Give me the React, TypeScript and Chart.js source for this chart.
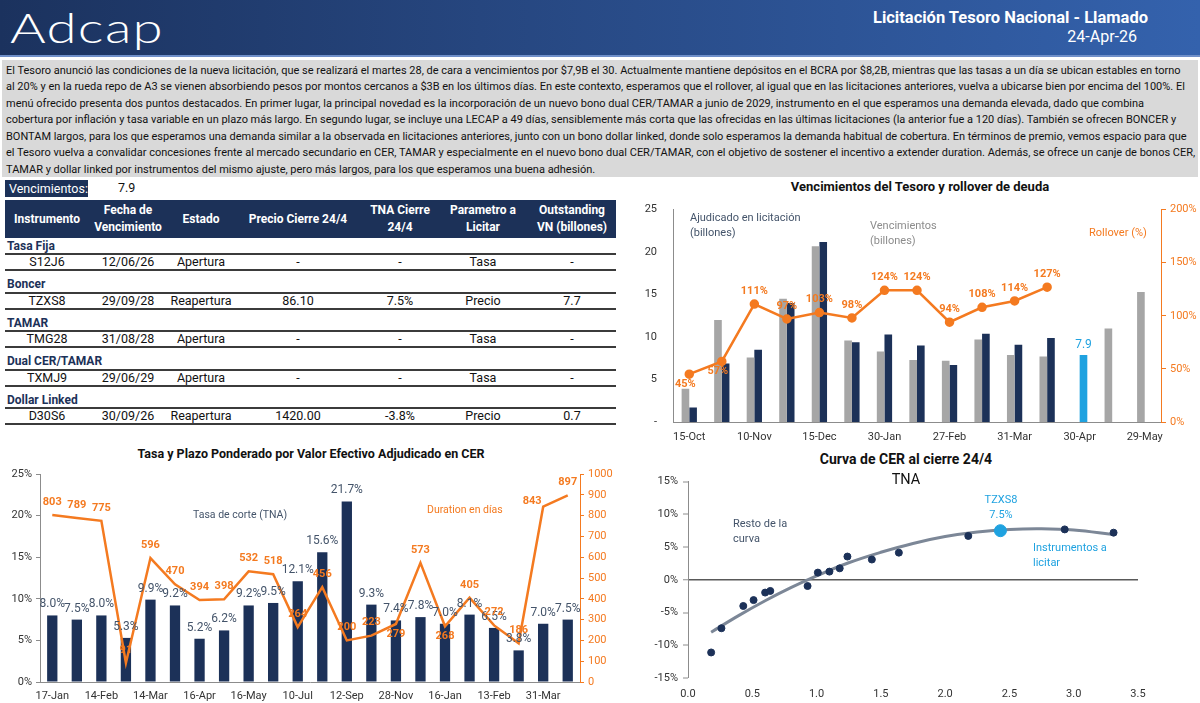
import React, { useEffect, useRef } from 'react';
import { Chart, registerables } from 'chart.js';

Chart.register(...registerables);

const FONT = 'Roboto, "Liberation Sans", Arial, sans-serif';
const NAVY = '#1c3158';
const ORANGE = '#f47a20';
const GRAY_BAR = '#a6a6a6';
const LIGHT_BLUE = '#1fa2e0';
const SLATE = '#44546a';
const AXIS = '#8c8c8c';
const TICK_TXT = '#333333';

// ---------------- Texto ----------------
const headerTitle = 'Licitación Tesoro Nacional - Llamado';
const headerDate = '24-Apr-26';
const paragraphLines = [
  'El Tesoro anunció las condiciones de la nueva licitación, que se realizará el martes 28, de cara a vencimientos por $7,9B el 30. Actualmente mantiene depósitos en el BCRA por $8,2B, mientras que las tasas a un día se ubican estables en torno',
  'al 20% y en la rueda repo de A3 se vienen absorbiendo pesos por montos cercanos a $3B en los últimos días. En este contexto, esperamos que el rollover, al igual que en las licitaciones anteriores, vuelva a ubicarse bien por encima del 100%. El',
  'menú ofrecido presenta dos puntos destacados. En primer lugar, la principal novedad es la incorporación de un nuevo bono dual CER/TAMAR a junio de 2029, instrumento en el que esperamos una demanda elevada, dado que combina',
  'cobertura por inflación y tasa variable en un plazo más largo. En segundo lugar, se incluye una LECAP a 49 días, sensiblemente más corta que las ofrecidas en las últimas licitaciones (la anterior fue a 120 días). También se ofrecen BONCER y',
  'BONTAM largos, para los que esperamos una demanda similar a la observada en licitaciones anteriores, junto con un bono dollar linked, donde solo esperamos la demanda habitual de cobertura. En términos de premio, vemos espacio para que',
  'el Tesoro vuelva a convalidar concesiones frente al mercado secundario en CER, TAMAR y especialmente en el nuevo bono dual CER/TAMAR, con el objetivo de sostener el incentivo a extender duration. Además, se ofrece un canje de bonos CER,',
  'TAMAR y dollar linked por instrumentos del mismo ajuste, pero más largos, para los que esperamos una buena adhesión.',
];

// ---------------- Tabla ----------------
const vencimientosLabel = 'Vencimientos:';
const vencimientosTotal = '7.9';
const tableHeaders = [
  ['Instrumento'],
  ['Fecha de', 'Vencimiento'],
  ['Estado'],
  ['Precio Cierre 24/4'],
  ['TNA Cierre', '24/4'],
  ['Parametro a', 'Licitar'],
  ['Outstanding', 'VN (billones)'],
];
const tableGroups = ['Tasa Fija', 'Boncer', 'TAMAR', 'Dual CER/TAMAR', 'Dollar Linked'];
const tableRows = [
  ['S12J6', '12/06/26', 'Apertura', '-', '-', 'Tasa', '-'],
  ['TZXS8', '29/09/28', 'Reapertura', '86.10', '7.5%', 'Precio', '7.7'],
  ['TMG28', '31/08/28', 'Apertura', '-', '-', 'Tasa', '-'],
  ['TXMJ9', '29/06/29', 'Apertura', '-', '-', 'Tasa', '-'],
  ['D30S6', '30/09/26', 'Reapertura', '1420.00', '-3.8%', 'Precio', '0.7'],
];

// ---------------- Vencimientos y rollover ----------------
const rollCategories = ['15-Oct', '', '10-Nov', '', '15-Dec', '', '30-Jan', '', '27-Feb', '', '31-Mar', '', '30-Apr', '', '29-May'];
const vencimientos = [3.9, 12.0, 7.6, 14.5, 20.7, 9.6, 8.3, 7.3, 7.2, 9.7, 7.9, 7.7, null, 11.0, 15.3];
const adjudicado = [1.7, 6.9, 8.5, 14.0, 21.2, 9.4, 10.3, 9.0, 6.7, 10.4, 9.1, 9.9, 7.9, null, null];
const rollover = [45, 57, 111, 97, 103, 98, 124, 124, 94, 108, 114, 127, null, null, null];
const rolloverLabelPos = ['below', 'below', 'above', 'above', 'above', 'above', 'above', 'above', 'above', 'above', 'above', 'above'];
const proximaIdx = 12;

// ---------------- Tasa y plazo CER ----------------
const cerCategories = ['17-Jan', '', '14-Feb', '', '14-Mar', '', '16-Apr', '', '16-May', '', '10-Jul', '', '12-Sep', '', '28-Nov', '', '16-Jan', '', '13-Feb', '', '31-Mar', ''];
const tasaCorte = [8.0, 7.5, 8.0, 5.3, 9.9, 9.2, 5.2, 6.2, 9.2, 9.5, 12.1, 15.6, 21.7, 9.3, 7.4, 7.8, 7.0, 8.1, 6.5, 3.8, 7.0, 7.5];
const durationDias = [803, 789, 775, 91, 596, 470, 394, 398, 532, 518, 264, 456, 200, 223, 279, 573, 268, 405, 272, 186, 843, 897];
const durationLabelPos = ['above', 'above', 'above', 'above', 'above', 'above', 'above', 'above', 'above', 'above', 'above', 'above', 'above', 'above', 'below', 'above', 'below', 'above', 'above', 'above', 'left', 'above'];

// ---------------- Curva CER ----------------
const curvaDuration = [0.18, 0.26, 0.43, 0.51, 0.60, 0.64, 0.93, 1.01, 1.10, 1.18, 1.24, 1.43, 1.64, 2.18, 2.93, 3.31];
const curvaTna = [-11.1, -7.4, -4.0, -3.1, -1.95, -1.7, -0.95, 1.1, 1.25, 1.75, 3.55, 3.1, 4.15, 6.7, 7.7, 7.2];
const licitarDuration = [2.43];
const licitarTna = [7.5];
const tendenciaDuration = [0.18, 0.4, 0.6, 0.8, 1.0, 1.25, 1.5, 1.75, 2.0, 2.25, 2.5, 2.75, 3.0, 3.31];
const tendenciaTna = [-8.0, -5.4, -3.2, -1.2, 0.6, 2.6, 4.2, 5.55, 6.6, 7.3, 7.7, 7.8, 7.6, 6.9];

// ---------------- helpers ----------------
function measureWidth(font: string, text: string): number {
  const c = document.createElement('canvas').getContext('2d');
  if (!c) return 1;
  c.font = font;
  return c.measureText(text).width || 1;
}
const PARA_WIDTH = 1176;
const paraFontSize = Math.min(13, (11 * PARA_WIDTH) / measureWidth(`11px ${FONT}`, paragraphLines[0]));

type TxtProps = { x: number; y: number; size?: number; weight?: number | string; color?: string; align?: 'left' | 'center' | 'right'; children: React.ReactNode; family?: string; extra?: React.CSSProperties };
function Txt({ x, y, size = 11, weight = 400, color = '#000', align = 'left', children, family = FONT, extra }: TxtProps) {
  const lh = Math.round(size * 1.4);
  const style: React.CSSProperties = {
    position: 'absolute',
    top: y - lh / 2,
    lineHeight: `${lh}px`,
    fontSize: size,
    fontWeight: weight as any,
    color,
    whiteSpace: 'nowrap',
    fontFamily: family,
  };
  if (align === 'left') style.left = x;
  if (align === 'center') { style.left = x; style.transform = 'translateX(-50%)'; }
  if (align === 'right') style.right = 1200 - x;
  return <div style={{ ...style, ...(extra || {}) }}>{children}</div>;
}

function ChartBox({ left, top, width, height, config }: { left: number; top: number; width: number; height: number; config: () => any }) {
  const ref = useRef<HTMLCanvasElement>(null);
  useEffect(() => {
    if (!ref.current) return;
    const chart = new Chart(ref.current, config());
    return () => chart.destroy();
  }, []);
  return (
    <div style={{ position: 'absolute', left, top, width, height }}>
      <canvas ref={ref} width={width} height={height} style={{ width, height, display: 'block' }} />
    </div>
  );
}

const tickFont = { family: FONT, size: 11 };

// ---------------- Chart configs ----------------
function rolloverConfig() {
  const labelsPlugin = {
    id: 'rollLabels',
    afterDatasetsDraw(chart: any) {
      const ctx = chart.ctx;
      ctx.save();
      ctx.textAlign = 'center';
      ctx.textBaseline = 'middle';
      ctx.font = `bold 11px ${FONT}`;
      ctx.fillStyle = ORANGE;
      chart.getDatasetMeta(0).data.forEach((pt: any, i: number) => {
        const v = rollover[i];
        if (v == null) return;
        const below = rolloverLabelPos[i] === 'below';
        ctx.fillText(`${v}%`, pt.x - (below ? 4 : 0), pt.y + (below ? 10 : -13));
      });
      const bar = chart.getDatasetMeta(2).data[proximaIdx];
      if (bar) {
        ctx.font = `12px ${FONT}`;
        ctx.fillStyle = LIGHT_BLUE;
        ctx.fillText(String(adjudicado[proximaIdx]), bar.x, bar.y - 10);
      }
      ctx.restore();
    },
  };
  return {
    type: 'bar',
    data: {
      labels: rollCategories,
      datasets: [
        { type: 'line', label: 'Rollover (%)', data: rollover, yAxisID: 'y1', borderColor: ORANGE, backgroundColor: ORANGE, borderWidth: 2.5, pointRadius: 3.5, pointHoverRadius: 3.5, order: 0, tension: 0 },
        { type: 'bar', label: 'Vencimientos (billones)', data: vencimientos, yAxisID: 'y', backgroundColor: GRAY_BAR, categoryPercentage: 0.47, barPercentage: 1, order: 1 },
        { type: 'bar', label: 'Ajudicado en licitación (billones)', data: adjudicado, yAxisID: 'y', backgroundColor: adjudicado.map((_, i) => (i === proximaIdx ? LIGHT_BLUE : NAVY)), categoryPercentage: 0.47, barPercentage: 1, order: 1 },
      ],
    },
    options: {
      responsive: false,
      animation: false,
      layout: { padding: { top: 7, left: 0, right: 0, bottom: 0 } },
      plugins: { legend: { display: false }, tooltip: { enabled: false } },
      scales: {
        x: {
          grid: { display: false, drawTicks: false },
          border: { color: AXIS },
          ticks: { autoSkip: false, maxRotation: 0, color: TICK_TXT, font: tickFont, padding: 9 },
          afterFit: (s: any) => { s.height = 25; },
        },
        y: {
          position: 'left', min: 0, max: 25,
          grid: { display: false },
          border: { color: AXIS },
          ticks: { stepSize: 5, color: TICK_TXT, font: tickFont, padding: 8, callback: (v: any) => (v === 0 ? '-' : String(v)) },
          afterFit: (s: any) => { s.width = 33; },
        },
        y1: {
          position: 'right', min: 0, max: 200,
          grid: { display: true, drawOnChartArea: false, drawTicks: true, tickLength: 5, color: ORANGE },
          border: { color: ORANGE },
          ticks: { stepSize: 50, color: ORANGE, font: tickFont, padding: 4, callback: (v: any) => `${v}%` },
          afterFit: (s: any) => { s.width = 39; },
        },
      },
    },
    plugins: [labelsPlugin],
  };
}

function cerConfig() {
  const labelsPlugin = {
    id: 'cerLabels',
    afterDatasetsDraw(chart: any) {
      const ctx = chart.ctx;
      ctx.save();
      ctx.textAlign = 'center';
      ctx.textBaseline = 'middle';
      ctx.font = `12px ${FONT}`;
      ctx.fillStyle = SLATE;
      chart.getDatasetMeta(1).data.forEach((b: any, i: number) => {
        ctx.fillText(`${tasaCorte[i].toFixed(1)}%`, b.x, b.y - 11);
      });
      ctx.font = `bold 11px ${FONT}`;
      ctx.fillStyle = ORANGE;
      chart.getDatasetMeta(0).data.forEach((p: any, i: number) => {
        const pos = durationLabelPos[i];
        let dx = 0, dy = -13;
        if (pos === 'below') dy = 10;
        if (pos === 'left') { dx = -11; dy = -5; }
        ctx.fillText(String(durationDias[i]), p.x + dx, p.y + dy);
      });
      ctx.restore();
    },
  };
  return {
    type: 'bar',
    data: {
      labels: cerCategories,
      datasets: [
        { type: 'line', label: 'Duration en días', data: durationDias, yAxisID: 'y1', borderColor: ORANGE, borderWidth: 2.5, pointRadius: 0, pointHoverRadius: 0, order: 0, tension: 0 },
        { type: 'bar', label: 'Tasa de corte (TNA)', data: tasaCorte, yAxisID: 'y', backgroundColor: NAVY, categoryPercentage: 1, barPercentage: 0.42, order: 1 },
      ],
    },
    options: {
      responsive: false,
      animation: false,
      layout: { padding: { top: 12, left: 0, right: 0, bottom: 0 } },
      plugins: { legend: { display: false }, tooltip: { enabled: false } },
      scales: {
        x: {
          grid: { display: false, drawTicks: false },
          border: { color: AXIS },
          ticks: { autoSkip: false, maxRotation: 0, color: TICK_TXT, font: tickFont, padding: 8 },
          afterFit: (s: any) => { s.height = 21; },
        },
        y: {
          position: 'left', min: 0, max: 25,
          grid: { display: true, drawOnChartArea: false, drawTicks: true, tickLength: 4, color: AXIS },
          border: { color: AXIS },
          ticks: { stepSize: 5, color: TICK_TXT, font: tickFont, padding: 4, callback: (v: any) => `${v}%` },
          afterFit: (s: any) => { s.width = 40; },
        },
        y1: {
          position: 'right', min: 0, max: 1000,
          grid: { display: true, drawOnChartArea: false, drawTicks: true, tickLength: 4, color: ORANGE },
          border: { color: ORANGE },
          ticks: { stepSize: 100, color: ORANGE, font: tickFont, padding: 4, callback: (v: any) => String(v) },
          afterFit: (s: any) => { s.width = 60; },
        },
      },
    },
    plugins: [labelsPlugin],
  };
}

function curvaConfig() {
  return {
    type: 'scatter',
    data: {
      datasets: [
        { label: 'Tendencia', data: tendenciaDuration.map((x, i) => ({ x, y: tendenciaTna[i] })), showLine: true, borderColor: '#7c8797', borderWidth: 3, pointRadius: 0, pointHoverRadius: 0, tension: 0.4, order: 3 },
        { label: 'Resto de la curva', data: curvaDuration.map((x, i) => ({ x, y: curvaTna[i] })), backgroundColor: NAVY, borderColor: NAVY, pointRadius: 3.5, pointHoverRadius: 3.5, order: 2 },
        { label: 'Instrumentos a licitar', data: licitarDuration.map((x, i) => ({ x, y: licitarTna[i] })), backgroundColor: LIGHT_BLUE, borderColor: LIGHT_BLUE, pointRadius: 6, pointHoverRadius: 6, order: 1 },
      ],
    },
    options: {
      responsive: false,
      animation: false,
      layout: { padding: { top: 8, left: 0, right: 62, bottom: 0 } },
      plugins: { legend: { display: false }, tooltip: { enabled: false } },
      scales: {
        x: {
          type: 'linear', min: 0, max: 3.5,
          grid: { display: false, drawTicks: false },
          border: { display: false },
          ticks: { stepSize: 0.5, color: TICK_TXT, font: tickFont, padding: 10, callback: (v: any) => Number(v).toFixed(1) },
          afterFit: (s: any) => { s.height = 25; },
        },
        y: {
          min: -15, max: 15,
          grid: {
            display: true, drawOnChartArea: true, drawTicks: true, tickLength: 5,
            color: (c: any) => (c.tick && c.tick.value === 0 ? '#595959' : 'rgba(0,0,0,0)'),
            lineWidth: (c: any) => (c.tick && c.tick.value === 0 ? 1.5 : 0),
            tickColor: AXIS, tickWidth: 1,
          },
          border: { color: AXIS },
          ticks: { stepSize: 5, color: TICK_TXT, font: tickFont, padding: 5, callback: (v: any) => `${v}%` },
          afterFit: (s: any) => { s.width = 48; },
        },
      },
    },
  };
}

// ---------------- Tabla ----------------
const colCenters = [47, 128, 201, 298, 400, 483, 572];
const colWidths = [80, 80, 70, 110, 80, 80, 90];

function Table() {
  const els: React.ReactNode[] = [];
  let y = 238;
  tableGroups.forEach((g, gi) => {
    const lh = gi === 0 ? 16 : 22.5;
    els.push(<Txt key={`g${gi}`} x={7} y={y + lh - 8} size={12} weight={700} color={NAVY}>{g}</Txt>);
    els.push(<div key={`gl${gi}`} style={{ position: 'absolute', left: 5, width: 611, top: y + lh - 1, height: 2, background: '#3b3b3b' }} />);
    const ry = y + lh;
    tableRows[gi].forEach((cell, ci) => {
      els.push(
        <div key={`c${gi}-${ci}`} style={{ position: 'absolute', left: colCenters[ci] - colWidths[ci] / 2, width: colWidths[ci], top: ry, height: 16, lineHeight: '16px', textAlign: 'center', fontSize: 12.5, color: '#111', whiteSpace: 'nowrap' }}>{cell}</div>
      );
    });
    els.push(<div key={`rl${gi}`} style={{ position: 'absolute', left: 5, width: 611, top: ry + 16 - 1, height: 2, background: '#3b3b3b' }} />);
    y = ry + 16;
  });
  return (
    <>
      <div style={{ position: 'absolute', left: 5, top: 180, width: 83, height: 17, background: NAVY, color: '#fff', fontSize: 12.5, lineHeight: '17px', paddingLeft: 4, boxSizing: 'border-box' }}>{vencimientosLabel}</div>
      <Txt x={118} y={188} size={12.5} color="#111">{vencimientosTotal}</Txt>
      <div style={{ position: 'absolute', left: 5, top: 200, width: 611, height: 38, background: NAVY }} />
      {tableHeaders.map((lines, ci) => (
        <div key={`h${ci}`} style={{ position: 'absolute', left: colCenters[ci] - colWidths[ci] / 2, width: colWidths[ci], top: 200, height: 38, display: 'flex', flexDirection: 'column', justifyContent: 'center', alignItems: 'center', color: '#fff', fontWeight: 700, fontSize: 12, lineHeight: '17px', whiteSpace: 'nowrap' }}>
          {lines.map((l, li) => <div key={li}>{l}</div>)}
        </div>
      ))}
      {els}
    </>
  );
}

export default function App() {
  return (
    <div style={{ position: 'absolute', left: 0, top: 0, width: 1200, height: 703, background: '#fff', overflow: 'hidden', fontFamily: FONT }}>
      {/* Header */}
      <div style={{ position: 'absolute', left: 0, top: 0, width: 1200, height: 55, background: 'linear-gradient(90deg, #1b325e 0%, #26467f 40%, #3462ad 100%)', borderBottom: '2px solid #6f8fc9' }} />
      <Txt x={10} y={27} size={42} weight={300} color="#fff" family='Lato, "Open Sans", sans-serif' extra={{ transform: 'scaleX(1.3)', transformOrigin: 'left center', letterSpacing: 1 }}>Adcap</Txt>
      <Txt x={1148} y={17} size={16.5} weight={700} color="#fff" align="right">{headerTitle}</Txt>
      <Txt x={1137} y={37} size={16} color="#fff" align="right">{headerDate}</Txt>

      {/* Paragraph */}
      <div style={{ position: 'absolute', left: 2, top: 60, width: 1196, height: 117, background: '#d9d9d9' }} />
      {paragraphLines.map((l, i) => (
        <Txt key={i} x={6} y={70 + i * 16.5} size={paraFontSize} color="#111">{l}</Txt>
      ))}

      <Table />

      {/* Vencimientos chart */}
      <Txt x={920} y={187} size={13} weight={700} color="#111" align="center">Vencimientos del Tesoro y rollover de deuda</Txt>
      <ChartBox left={640} top={195} width={560} height={252} config={rolloverConfig} />
      <Txt x={690} y={217} size={11} color={SLATE}>Ajudicado en licitación</Txt>
      <Txt x={690} y={232} size={11} color={SLATE}>(billones)</Txt>
      <Txt x={870} y={225} size={11} color="#8c8c8c">Vencimientos</Txt>
      <Txt x={870} y={240} size={11} color="#8c8c8c">(billones)</Txt>
      <Txt x={1089} y={232} size={11} color={ORANGE}>Rollover (%)</Txt>

      {/* CER tasa y plazo */}
      <Txt x={311} y={454} size={12.5} weight={700} color="#111" align="center">Tasa y Plazo Ponderado por Valor Efectivo Adjudicado en CER</Txt>
      <ChartBox left={0} top={462} width={640} height={241} config={cerConfig} />
      <Txt x={193} y={514} size={10.5} color={SLATE}>Tasa de corte (TNA)</Txt>
      <Txt x={427} y={509} size={10.5} color={ORANGE}>Duration en días</Txt>

      {/* Curva CER */}
      <Txt x={906} y={459} size={14} weight={700} color="#111" align="center">Curva de CER al cierre 24/4</Txt>
      <ChartBox left={640} top={470} width={560} height={233} config={curvaConfig} />
      <Txt x={906} y={480} size={14.5} color="#111" align="center">TNA</Txt>
      <Txt x={733} y={523} size={11} color={SLATE}>Resto de la</Txt>
      <Txt x={733} y={538} size={11} color={SLATE}>curva</Txt>
      <Txt x={1001} y={499} size={11} color={LIGHT_BLUE} align="center">TZXS8</Txt>
      <Txt x={1001} y={514} size={11} color={LIGHT_BLUE} align="center">7.5%</Txt>
      <Txt x={1033} y={547} size={11} color={LIGHT_BLUE}>Instrumentos a</Txt>
      <Txt x={1033} y={562} size={11} color={LIGHT_BLUE}>licitar</Txt>
    </div>
  );
}
